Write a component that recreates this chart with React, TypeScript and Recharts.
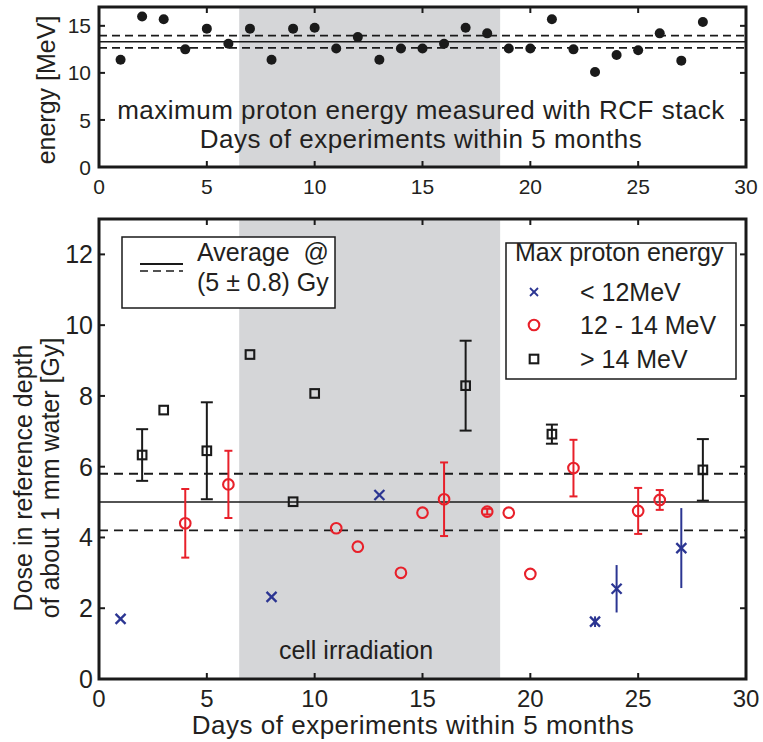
import React from 'react';
import { ScatterChart, Scatter, XAxis, YAxis, ReferenceArea, ReferenceLine, ErrorBar } from 'recharts';

const FONT = '"Liberation Sans", Arial, Helvetica, sans-serif';
const TXT = '#231f20';
const RED = '#e8202a';
const BLUE = '#2b3592';
const BLK = '#1a1a1a';
const SHADE = '#d5d6d8';

// axes
const dayTicks = [0, 5, 10, 15, 20, 25, 30];
const energyTicks = [0, 5, 10, 15];
const doseTicks = [0, 2, 4, 6, 8, 10, 12];
const cellDays = [6.5, 18.6];

// top panel: max proton energy per day
const energyDays = [1, 2, 3, 4, 5, 6, 7, 8, 9, 10, 11, 12, 13, 14, 15, 16, 17, 18, 19, 20, 21, 22, 23, 24, 25, 26, 27, 28];
const energyMeV = [11.4, 16.0, 15.7, 12.5, 14.7, 13.1, 14.7, 11.4, 14.7, 14.8, 12.6, 13.8, 11.4, 12.6, 12.6, 13.1, 14.8, 14.2, 12.6, 12.6, 15.7, 12.5, 10.1, 11.9, 12.4, 14.2, 11.3, 15.4];
const energyMean = 13.3;
const energyBand = [12.65, 13.95];

// bottom panel: dose, split by energy class
const lowDays = [1, 8, 13, 23, 24, 27];
const lowDose = [1.7, 2.32, 5.2, 1.62, 2.55, 3.7];
const lowErr = [null, null, null, 0.15, 0.67, 1.13];

const midDays = [4, 6, 11, 12, 14, 15, 16, 18, 19, 20, 22, 25, 26];
const midDose = [4.4, 5.5, 4.26, 3.74, 3.0, 4.7, 5.08, 4.73, 4.7, 2.97, 5.96, 4.75, 5.06];
const midErr = [0.97, 0.95, null, null, null, null, 1.04, 0.08, null, null, 0.8, 0.65, 0.28];

const highDays = [2, 3, 5, 7, 9, 10, 17, 21, 28];
const highDose = [6.33, 7.6, 6.45, 9.17, 5.01, 8.07, 8.29, 6.92, 5.91];
const highErr = [0.73, null, 1.37, null, null, null, 1.27, 0.27, 0.87];

const doseMean = 5;
const doseBand = [4.2, 5.8];

const rows = (d: number[], v: number[], e?: (number | null)[]) =>
  d.map((day, i) => ({ day, val: v[i], err: e ? e[i] : null }));

const energyData = rows(energyDays, energyMeV);
const lowData = rows(lowDays, lowDose, lowErr);
const midData = rows(midDays, midDose, midErr);
const highData = rows(highDays, highDose, highErr);

// ticks drawn inside the box on both sides, MATLAB style
const xTick = (top: number, fs: number, dy: number) => (p: any) => {
  const { x, y, payload } = p;
  return (
    <g>
      <line x1={x} x2={x} y1={y} y2={y - 6} stroke={BLK} strokeWidth={2} />
      <line x1={x} x2={x} y1={top} y2={top + 6} stroke={BLK} strokeWidth={2} />
      <text x={x} y={y + dy} textAnchor="middle" fontSize={fs} fontFamily={FONT} fill={TXT}>
        {payload.value}
      </text>
    </g>
  );
};

const yTick = (right: number, fs: number, dx: number) => (p: any) => {
  const { x, y, payload } = p;
  return (
    <g>
      <line x1={x} x2={x + 6} y1={y} y2={y} stroke={BLK} strokeWidth={2} />
      <line x1={right} x2={right - 6} y1={y} y2={y} stroke={BLK} strokeWidth={2} />
      <text x={x - dx} y={y + fs * 0.36} textAnchor="end" fontSize={fs} fontFamily={FONT} fill={TXT}>
        {payload.value}
      </text>
    </g>
  );
};

const Dot = (p: any) => <circle cx={p.cx} cy={p.cy} r={5} fill={BLK} />;
const Cross = (p: any) => (
  <g stroke={BLUE} strokeWidth={2.3}>
    <line x1={p.cx - 5} y1={p.cy - 5} x2={p.cx + 5} y2={p.cy + 5} />
    <line x1={p.cx - 5} y1={p.cy + 5} x2={p.cx + 5} y2={p.cy - 5} />
  </g>
);
const Ring = (p: any) => <circle cx={p.cx} cy={p.cy} r={5.3} fill="none" stroke={RED} strokeWidth={2.1} />;
const Box = (p: any) => <rect x={p.cx - 4.3} y={p.cy - 4.3} width={8.6} height={8.6} fill="none" stroke={BLK} strokeWidth={2.1} />;

function TopChart() {
  return (
    <ScatterChart width={763} height={200} margin={{ top: 7, right: 17, bottom: 0, left: 0 }}>
      <XAxis type="number" dataKey="day" domain={[0, 30]} ticks={dayTicks} interval={0} height={33}
        axisLine={false} tickLine={false} tickSize={0} tickMargin={0} tick={xTick(7, 21, 27)} />
      <YAxis type="number" dataKey="val" domain={[0, 17]} ticks={energyTicks} interval={0} width={99}
        axisLine={false} tickLine={false} tickSize={0} tickMargin={0} tick={yTick(746, 21, 8)} />
      <ReferenceArea x1={cellDays[0]} x2={cellDays[1]} y1={0} y2={17} fill={SHADE} fillOpacity={1} stroke="none" />
      <ReferenceLine y={energyBand[0]} stroke={BLK} strokeWidth={1.8} strokeDasharray="8 5" />
      <ReferenceLine y={energyBand[1]} stroke={BLK} strokeWidth={1.8} strokeDasharray="8 5" />
      <ReferenceLine y={energyMean} stroke={BLK} strokeWidth={1.5} />
      <Scatter data={energyData} shape={Dot} isAnimationActive={false} />
      <ReferenceArea x1={0} x2={30} y1={0} y2={17} fill="none" stroke={BLK} strokeWidth={3} />
    </ScatterChart>
  );
}

function BottomChart() {
  return (
    <ScatterChart width={763} height={542} margin={{ top: 19, right: 17, bottom: 0, left: 0 }}>
      <XAxis type="number" dataKey="day" domain={[0, 30]} ticks={dayTicks} interval={0} height={63}
        axisLine={false} tickLine={false} tickSize={0} tickMargin={0} tick={xTick(19, 24, 28)} />
      <YAxis type="number" dataKey="val" domain={[0, 13]} ticks={doseTicks} interval={0} width={99}
        axisLine={false} tickLine={false} tickSize={0} tickMargin={0} tick={yTick(746, 25, 6)} />
      <ReferenceArea x1={cellDays[0]} x2={cellDays[1]} y1={0} y2={13} fill={SHADE} fillOpacity={1} stroke="none" />
      <ReferenceLine y={doseBand[0]} stroke={BLK} strokeWidth={1.8} strokeDasharray="9 6" />
      <ReferenceLine y={doseBand[1]} stroke={BLK} strokeWidth={1.8} strokeDasharray="9 6" />
      <ReferenceLine y={doseMean} stroke={BLK} strokeWidth={1.5} />
      <Scatter data={highData} shape={Box} isAnimationActive={false}>
        <ErrorBar dataKey="err" direction="y" width={6} stroke={BLK} strokeWidth={2} />
      </Scatter>
      <Scatter data={midData} shape={Ring} isAnimationActive={false}>
        <ErrorBar dataKey="err" direction="y" width={4} stroke={RED} strokeWidth={2} />
      </Scatter>
      <Scatter data={lowData} shape={Cross} isAnimationActive={false}>
        <ErrorBar dataKey="err" direction="y" width={0} stroke={BLUE} strokeWidth={2} />
      </Scatter>
      <ReferenceArea x1={0} x2={30} y1={0} y2={13} fill="none" stroke={BLK} strokeWidth={3} />
    </ScatterChart>
  );
}

const txt = { fontFamily: FONT, fill: TXT } as const;

export default function App() {
  return (
    <div style={{ position: 'absolute', left: 0, top: 0, width: 763, height: 742, background: '#fff' }}>
      <div style={{ position: 'absolute', left: 0, top: 0 }}>
        <TopChart />
      </div>
      <div style={{ position: 'absolute', left: 0, top: 200 }}>
        <BottomChart />
      </div>
      <svg width={763} height={742} style={{ position: 'absolute', left: 0, top: 0, pointerEvents: 'none' }}>
        <text {...txt} x={421} y={119} fontSize={26} letterSpacing={0.5} textAnchor="middle">
          maximum proton energy measured with RCF stack
        </text>
        <text {...txt} x={421} y={148} fontSize={26} letterSpacing={0.5} textAnchor="middle">
          Days of experiments within 5 months
        </text>
        <text {...txt} x={55} y={90} fontSize={25} textAnchor="middle" transform="rotate(-90 55 90)">
          energy [MeV]
        </text>
        <text {...txt} x={32} y={478} fontSize={25} textAnchor="middle" transform="rotate(-90 32 478)">
          Dose in reference depth
        </text>
        <text {...txt} x={59} y={478} fontSize={25} textAnchor="middle" transform="rotate(-90 59 478)">
          of about 1 mm water [Gy]
        </text>
        <text {...txt} x={413} y={734} fontSize={26} letterSpacing={0.5} textAnchor="middle">
          Days of experiments within 5 months
        </text>
        <text {...txt} x={356} y={659} fontSize={25} textAnchor="middle">
          cell irradiation
        </text>

        {/* average legend */}
        <rect x={122} y={237} width={213} height={71} fill="#fff" stroke={BLK} strokeWidth={1.5} />
        <line x1={140} x2={183} y1={264} y2={264} stroke={BLK} strokeWidth={2} />
        <line x1={140} x2={183} y1={271} y2={271} stroke={BLK} strokeWidth={1.5} strokeDasharray="8 5" />
        <text {...txt} x={197} y={261} fontSize={25}>{'Average\u00a0\u00a0@'}</text>
        <text {...txt} x={197} y={291} fontSize={25}>(5 ± 0.8) Gy</text>

        {/* energy class legend */}
        <rect x={506} y={243} width={230} height={136} fill="#fff" stroke={BLK} strokeWidth={1.5} />
        <text {...txt} x={515} y={261} fontSize={25}>Max proton energy</text>
        <g transform="translate(534 292) scale(0.8) translate(-534 -292)">
          <Cross cx={534} cy={292} />
        </g>
        <text {...txt} x={580} y={301} fontSize={25}>{'< 12MeV'}</text>
        <Ring cx={534} cy={325} />
        <text {...txt} x={580} y={334} fontSize={25}>12 - 14 MeV</text>
        <Box cx={534} cy={359} />
        <text {...txt} x={580} y={368} fontSize={25}>{'> 14 MeV'}</text>
      </svg>
    </div>
  );
}
